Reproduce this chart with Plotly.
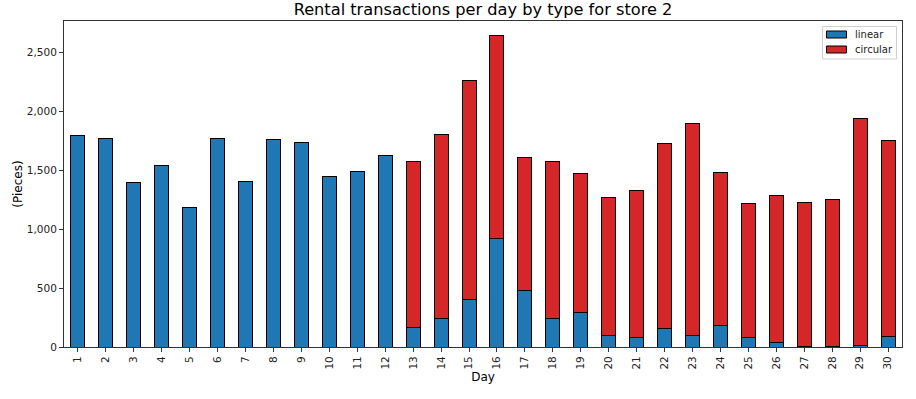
import plotly.graph_objects as go

days = [str(d) for d in range(1, 31)]
linear = [1796, 1770, 1397, 1541, 1185, 1770, 1405, 1762, 1737, 1448, 1490, 1626,
          167, 243, 405, 922, 481, 243, 294, 99, 82, 158, 99, 184, 82, 40, 6, 6, 14, 91]
total = [1796, 1770, 1397, 1541, 1185, 1770, 1405, 1762, 1737, 1448, 1490, 1626,
         1575, 1804, 2262, 2636, 1609, 1575, 1473, 1270, 1329, 1728, 1897, 1482, 1219, 1287, 1227, 1253, 1940, 1753]
circular = [t - l for t, l in zip(total, linear)]
y_ticks = [0, 500, 1000, 1500, 2000, 2500]
series_names = ["linear", "circular"]
series_colors = ["#1f77b4", "#d62728"]

font = "DejaVu Sans"
# plot area target on page: x 64..902, y 21..347 (body margin removed below)
W, H = 916, 399
L, T = 64, 21
PW, PH = 838, 326

def px(x):
    return (x - L) / PW

def py(y):
    return (T + PH - y) / PH

fig = go.Figure()
for name, vals, col in zip(series_names, [linear, circular], series_colors):
    fig.add_trace(go.Bar(x=days, y=vals, name=name, showlegend=False, hoverinfo="skip",
                         marker=dict(color=col, line=dict(color="black", width=1)), width=0.5))

shapes = [dict(type="rect", xref="paper", yref="paper", x0=px(822.5), x1=px(896.5), y0=py(59), y1=py(26.5),
               line=dict(color="#d0d0d0", width=1), fillcolor="rgba(255,255,255,0.8)", layer="above")]
annotations = []
for i, (name, col) in enumerate(zip(series_names, series_colors)):
    cy = 34.5 + 15 * i
    shapes.append(dict(type="rect", xref="paper", yref="paper", x0=px(826.5), x1=px(846.5),
                       y0=py(cy + 3.5), y1=py(cy - 3.5), line=dict(color="black", width=1),
                       fillcolor=col, layer="above"))
    annotations.append(dict(text=name, xref="paper", yref="paper", x=px(853), y=py(cy),
                            xanchor="left", yanchor="middle", showarrow=False,
                            font=dict(size=10, color="#222")))

fig.update_layout(
    barmode="stack",
    width=W, height=H,
    margin=dict(l=L, r=W - L - PW, t=T, b=H - T - PH, autoexpand=False),
    paper_bgcolor="white", plot_bgcolor="white",
    font=dict(family=font, size=10.5, color="#222"),
    title=dict(text="Rental transactions per day by type for store 2", x=0.5, xref="paper",
               y=1 - 9.5 / H, yanchor="middle", font=dict(size=16.2, color="black")),
    shapes=shapes, annotations=annotations,
    bargap=0.5, showlegend=False,
)
fig.update_xaxes(
    title=dict(text="Day", standoff=2, font=dict(size=12, color="black")),
    tickangle=-90, ticks="outside", ticklen=4, tickcolor="#333", automargin=False,
    showline=True, linecolor="#333", linewidth=1, mirror=True,
    range=[-0.5, 29.5], tickfont=dict(size=10.5),
)
fig.update_yaxes(
    title=dict(text="(Pieces)", standoff=1, font=dict(size=12, color="black")),
    range=[0, 2763], tickvals=y_ticks, tickformat=",", ticks="outside", ticklen=4, tickcolor="#333",
    automargin=False,
    showline=True, linecolor="#333", linewidth=1, mirror=True, showgrid=False, zeroline=False,
)
fig.write_html("out.html", config={"displayModeBar": False},
               post_script="document.body.style.margin='0';document.body.style.overflow='hidden';")
